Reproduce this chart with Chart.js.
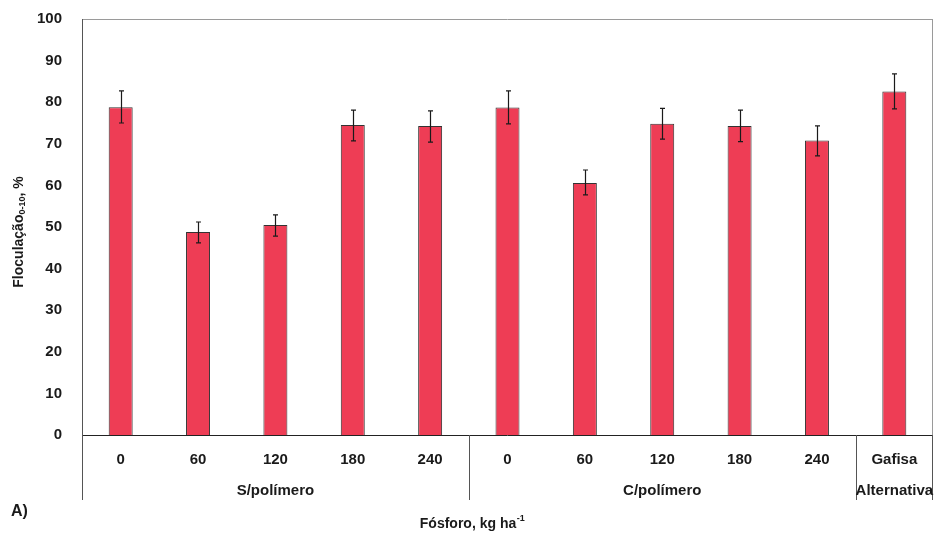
<!DOCTYPE html>
<html>
<head>
<meta charset="utf-8">
<script src="https://cdn.jsdelivr.net/npm/chart.js@4"></script>
<style>
  html, body { margin: 0; padding: 0; background: #fff; }
  #wrap { width: 934px; height: 533px; }
</style>
</head>
<body>
<div id="wrap"><canvas id="chart" width="934" height="533"></canvas></div>
<script>
// Doses de fósforo por tratamento
const doses = ['0', '60', '120', '180', '240', '0', '60', '120', '180', '240', 'Gafisa'];
// Grupos (rótulo, primeiro índice, último índice)
const groups = [
    { label: 'S/polímero', from: 0, to: 4 },
    { label: 'C/polímero', from: 5, to: 9 },
    { label: 'Alternativa', from: 10, to: 10 }
];
// Floculação 0-10 cm, %
const floculacao = [78.8, 48.8, 50.5, 74.5, 74.3, 78.7, 60.6, 74.8, 74.3, 70.8, 82.6];
// Limites das barras de erro
const errHigh = [82.7, 51.2, 52.9, 78.1, 77.9, 82.7, 63.7, 78.5, 78.1, 74.3, 86.8];
const errLow = [75.0, 46.2, 47.8, 70.7, 70.4, 74.8, 57.7, 71.1, 70.5, 67.1, 78.4];
const yTicks = [0, 10, 20, 30, 40, 50, 60, 70, 80, 90, 100];

const FONT = '"Liberation Sans", Arial, sans-serif';
const TXT = '#1a1a1a';

// Barras de erro
const errorBars = {
    id: 'errorBars',
    afterDatasetsDraw(chart) {
        const ctx = chart.ctx;
        const y = chart.scales.y;
        const meta = chart.getDatasetMeta(0);
        ctx.save();
        ctx.strokeStyle = '#1a1a1a';
        ctx.lineWidth = 1.2;
        meta.data.forEach((bar, i) => {
            const x = Math.round(bar.x) + 0.5;
            const yt = y.getPixelForValue(errHigh[i]);
            const yb = y.getPixelForValue(errLow[i]);
            ctx.beginPath();
            ctx.moveTo(x, yt); ctx.lineTo(x, yb);
            ctx.moveTo(x - 2.5, yt); ctx.lineTo(x + 2.5, yt);
            ctx.moveTo(x - 2.5, yb); ctx.lineTo(x + 2.5, yb);
            ctx.stroke();
        });
        ctx.restore();
    }
};

// Moldura, separadores dos grupos e textos extra
const decor = {
    id: 'decor',
    beforeDatasetsDraw(chart) {
        const { ctx, chartArea: a } = chart;
        ctx.save();
        ctx.strokeStyle = '#9a9a9a';
        ctx.lineWidth = 1;
        ctx.beginPath();
        ctx.moveTo(a.left, a.top + 0.5); ctx.lineTo(a.right, a.top + 0.5);
        ctx.moveTo(a.right - 0.5, a.top); ctx.lineTo(a.right - 0.5, a.bottom);
        ctx.stroke();
        ctx.strokeStyle = '#555';
        ctx.beginPath();
        ctx.moveTo(a.left + 0.5, a.top); ctx.lineTo(a.left + 0.5, a.bottom);
        ctx.stroke();
        ctx.restore();
    },
    afterDraw(chart) {
        const { ctx, chartArea: a } = chart;
        const x = chart.scales.x;
        const half = (x.getPixelForValue(1) - x.getPixelForValue(0)) / 2;
        ctx.save();
        // eixo x
        ctx.strokeStyle = '#222';
        ctx.lineWidth = 1;
        ctx.beginPath();
        ctx.moveTo(a.left, Math.round(a.bottom) + 0.5);
        ctx.lineTo(a.right, Math.round(a.bottom) + 0.5);
        ctx.stroke();
        // separadores
        ctx.strokeStyle = '#555';
        const edges = [x.getPixelForValue(0) - half];
        groups.forEach(g => edges.push(x.getPixelForValue(g.to) + half));
        ctx.beginPath();
        edges.forEach(e => {
            const ex = Math.min(Math.round(e), a.right - 1) + 0.5;
            ctx.moveTo(ex, a.bottom); ctx.lineTo(ex, a.bottom + 65);
        });
        ctx.stroke();
        // rótulos dos grupos
        ctx.fillStyle = TXT;
        ctx.textAlign = 'center';
        ctx.textBaseline = 'middle';
        ctx.font = 'bold 15px ' + FONT;
        groups.forEach(g => {
            const cx = (x.getPixelForValue(g.from) + x.getPixelForValue(g.to)) / 2;
            ctx.fillText(g.label, cx, a.bottom + 56);
        });
        // título do eixo x com sobrescrito
        const main = 'Fósforo, kg ha';
        const sup = '-1';
        ctx.font = 'bold 14px ' + FONT;
        const w1 = ctx.measureText(main).width;
        ctx.font = 'bold 9px ' + FONT;
        const w2 = ctx.measureText(sup).width;
        let sx = 472 - (w1 + w2) / 2;
        ctx.textAlign = 'left';
        ctx.font = 'bold 14px ' + FONT;
        ctx.fillText(main, sx, 524);
        ctx.font = 'bold 9px ' + FONT;
        ctx.fillText(sup, sx + w1 + 0.5, 519);
        // A)
        ctx.font = 'bold 16px ' + FONT;
        ctx.fillText('A)', 11, 512);
        // título do eixo y com subscrito
        ctx.translate(19, 232);
        ctx.rotate(-Math.PI / 2);
        const t1 = 'Floculação', t2 = '0-10', t3 = ', %';
        ctx.font = 'bold 14px ' + FONT;
        const a1 = ctx.measureText(t1).width, a3 = ctx.measureText(t3).width;
        ctx.font = 'bold 9px ' + FONT;
        const a2 = ctx.measureText(t2).width;
        let px = -(a1 + a2 + a3) / 2;
        ctx.font = 'bold 14px ' + FONT;
        ctx.fillText(t1, px, 0);
        ctx.font = 'bold 9px ' + FONT;
        ctx.fillText(t2, px + a1, 4);
        ctx.font = 'bold 14px ' + FONT;
        ctx.fillText(t3, px + a1 + a2, 0);
        ctx.restore();
    }
};

new Chart(document.getElementById('chart'), {
    type: 'bar',
    data: {
        labels: doses,
        datasets: [{
            data: floculacao,
            backgroundColor: '#EE3D55',
            borderColor: '#333',
            borderWidth: 1,
            borderSkipped: 'bottom',
            categoryPercentage: 1,
            barPercentage: 0.31
        }]
    },
    options: {
        responsive: false,
        animation: false,
        layout: { padding: { left: 0, top: 19, right: 1, bottom: 0 } },
        plugins: { legend: { display: false }, tooltip: { enabled: false } },
        scales: {
            x: {
                grid: { display: false, drawTicks: false },
                border: { display: false },
                ticks: {
                    color: TXT,
                    font: { family: FONT, size: 15, weight: 'bold' },
                    padding: 16,
                    maxRotation: 0,
                    autoSkip: false
                },
                afterFit: s => { s.height = 98; s.paddingLeft = 0; s.paddingRight = 0; }
            },
            y: {
                min: 0,
                max: 100,
                afterBuildTicks: s => { s.ticks = yTicks.map(v => ({ value: v })); },
                grid: { display: false, drawTicks: false },
                border: { display: false },
                ticks: {
                    color: TXT,
                    font: { family: FONT, size: 15, weight: 'bold' },
                    padding: 20
                },
                afterFit: s => { s.width = 82; s.paddingTop = 0; s.paddingBottom = 0; }
            }
        }
    },
    plugins: [decor, errorBars]
});
</script>
</body>
</html>
